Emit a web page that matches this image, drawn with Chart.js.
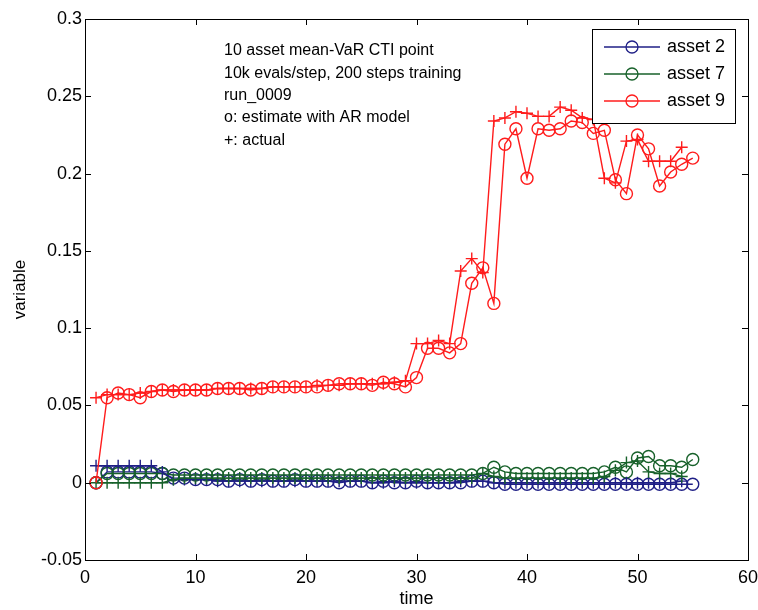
<!DOCTYPE html>
<html>
<head>
<meta charset="utf-8">
<script src="https://cdn.jsdelivr.net/npm/chart.js@4.4.1/dist/chart.umd.min.js"></script>
<style>
  html, body { margin: 0; padding: 0; background: #ffffff; }
  #wrap { width: 758px; height: 610px; }
</style>
</head>
<body>
<div id="wrap"><canvas id="c" width="758" height="610"></canvas></div>
<script>
// time steps of the run
const steps = [1,2,3,4,5,6,7,8,9,10,11,12,13,14,15,16,17,18,19,20,
  21,22,23,24,25,26,27,28,29,30,31,32,33,34,35,36,37,38,39,40,
  41,42,43,44,45,46,47,48,49,50,51,52,53,54,55];

// AR-model estimates (o) — one per step
const asset2Est = [0,0.007,0.007,0.007,0.007,0.007,0.006,0.003,0.003,0.002,
  0.002,0.002,0.001,0.002,0.001,0.002,0.001,0.001,0.002,0.001,
  0.001,0.001,0.000,0.001,0.001,0.000,0.001,0.000,0.000,0.001,
  0.000,0.000,0.000,0.000,0.001,0.001,0.000,-0.001,-0.001,-0.001,
  -0.001,-0.001,-0.001,-0.001,-0.001,-0.001,-0.001,-0.001,-0.001,-0.001,
  -0.001,-0.001,-0.001,-0.001,-0.001];
const asset7Est = [0,0.006,0.006,0.006,0.006,0.006,0.006,0.005,0.005,0.005,
  0.005,0.005,0.005,0.005,0.005,0.005,0.005,0.005,0.005,0.005,
  0.005,0.005,0.005,0.005,0.005,0.005,0.005,0.005,0.005,0.005,
  0.005,0.005,0.005,0.005,0.005,0.006,0.010,0.007,0.006,0.006,
  0.006,0.006,0.006,0.006,0.006,0.006,0.007,0.010,0.007,0.016,
  0.017,0.011,0.011,0.010,0.015];
const asset9Est = [0,0.055,0.058,0.057,0.055,0.059,0.060,0.059,0.060,0.060,
  0.060,0.061,0.061,0.061,0.060,0.061,0.062,0.062,0.062,0.062,
  0.062,0.063,0.064,0.064,0.064,0.063,0.065,0.064,0.062,0.068,
  0.087,0.087,0.084,0.090,0.129,0.139,0.116,0.219,0.229,0.197,
  0.229,0.228,0.229,0.234,0.233,0.226,0.228,0.196,0.187,0.225,
  0.216,0.192,0.201,0.206,0.210];

// actual values (+) — known up to step 54
const asset2Act = [0.011,0.011,0.011,0.011,0.011,0.011,0.007,0.002,0.002,0.002,
  0.002,0.001,0.001,0.001,0.001,0.001,0.001,0.001,0.001,0.001,
  0.001,0.001,0.001,0.001,0.001,0.000,0.000,0.001,0.000,0.000,
  0.000,0.000,0.000,0.001,0.001,0.001,0.000,0.000,0.000,0.000,
  0.000,0.000,0.000,0.000,0.000,0.000,0.000,0.000,0.000,0.000,
  0.000,0.000,0.000,0.001];
const asset7Act = [0,0,0,0,0,0,0,0.002,0.003,0.003,
  0.003,0.003,0.003,0.003,0.003,0.003,0.003,0.003,0.003,0.003,
  0.003,0.003,0.003,0.003,0.003,0.003,0.003,0.003,0.003,0.003,
  0.003,0.003,0.003,0.003,0.003,0.006,0.004,0.003,0.003,0.003,
  0.003,0.003,0.003,0.003,0.003,0.003,0.004,0.008,0.013,0.014,
  0.007,0.006,0.006,0.004];
const asset9Act = [0.055,0.057,0.057,0.057,0.058,0.059,0.060,0.060,0.060,0.060,
  0.060,0.061,0.061,0.061,0.061,0.061,0.062,0.062,0.062,0.062,
  0.063,0.063,0.063,0.064,0.064,0.064,0.064,0.065,0.066,0.090,
  0.090,0.092,0.090,0.137,0.145,0.136,0.234,0.236,0.240,0.239,
  0.237,0.237,0.243,0.241,0.236,0.235,0.197,0.194,0.221,0.222,
  0.208,0.208,0.208,0.217];

const xTicks = [0, 10, 20, 30, 40, 50, 60];
const yTicks = [-0.05, 0, 0.05, 0.1, 0.15, 0.2, 0.25, 0.3];

const assetNames = ['asset 2', 'asset 7', 'asset 9'];
const noteLines = [
  '10 asset mean-VaR CTI point',
  '10k evals/step, 200 steps training',
  'run_0009',
  'o: estimate with AR model',
  '+: actual'
];

const BLUE = '#1f1f86';
const GREEN = '#17612a';
const RED = '#ff1c1c';
const FONT = '"Liberation Sans", Arial, Helvetica, sans-serif';

function pairs(vals) {
  return vals.map((v, i) => ({ x: steps[i], y: v }));
}

function series(label, vals, color, style, order) {
  return {
    label: label,
    data: pairs(vals),
    borderColor: color,
    backgroundColor: color,
    pointBorderColor: color,
    pointBackgroundColor: 'rgba(0,0,0,0)',
    pointStyle: style,
    pointRadius: 6,
    pointHoverRadius: 6,
    pointBorderWidth: 1.4,
    borderWidth: 1.4,
    showLine: true,
    fill: false,
    tension: 0,
    order: order
  };
}

// axes box with inward ticks on all four sides
const frame = {
  id: 'frame',
  afterDatasetsDraw(chart) {
    const { ctx, chartArea: a, scales } = chart;
    const L = 6;
    ctx.save();
    ctx.strokeStyle = '#000';
    ctx.lineWidth = 1;
    ctx.strokeRect(a.left + 0.5, a.top + 0.5, a.right - a.left, a.bottom - a.top);
    ctx.beginPath();
    xTicks.forEach(v => {
      const px = Math.round(scales.x.getPixelForValue(v)) + 0.5;
      ctx.moveTo(px, a.bottom); ctx.lineTo(px, a.bottom - L);
      ctx.moveTo(px, a.top); ctx.lineTo(px, a.top + L);
    });
    yTicks.forEach(v => {
      const py = Math.round(scales.y.getPixelForValue(v)) + 0.5;
      ctx.moveTo(a.left, py); ctx.lineTo(a.left + L, py);
      ctx.moveTo(a.right, py); ctx.lineTo(a.right - L, py);
    });
    ctx.stroke();
    ctx.restore();
  }
};

// text block describing the run
const notes = {
  id: 'notes',
  afterDraw(chart) {
    const { ctx, chartArea: a } = chart;
    ctx.save();
    ctx.fillStyle = '#000';
    ctx.font = '16px ' + FONT;
    ctx.textBaseline = 'middle';
    ctx.textAlign = 'left';
    noteLines.forEach((t, i) => ctx.fillText(t, a.left + 139, a.top + 32 + i * 22.3));
    ctx.restore();
  }
};

// boxed legend in the upper right corner
const boxLegend = {
  id: 'boxLegend',
  afterDraw(chart) {
    const { ctx, chartArea: a } = chart;
    const w = 143, h = 94;
    const x0 = a.right - 13 - w, y0 = a.top + 10;
    ctx.save();
    ctx.fillStyle = '#fff';
    ctx.fillRect(x0, y0, w, h);
    ctx.strokeStyle = '#000';
    ctx.lineWidth = 1;
    ctx.strokeRect(x0 + 0.5, y0 + 0.5, w, h);
    const colors = [BLUE, GREEN, RED];
    assetNames.forEach((name, i) => {
      const y = y0 + 18 + i * 27;
      ctx.strokeStyle = colors[i];
      ctx.lineWidth = 1.3;
      ctx.beginPath();
      ctx.moveTo(x0 + 12, y); ctx.lineTo(x0 + 68, y);
      ctx.stroke();
      ctx.beginPath();
      ctx.arc(x0 + 40, y, 6, 0, Math.PI * 2);
      ctx.stroke();
      ctx.fillStyle = '#000';
      ctx.font = '18px ' + FONT;
      ctx.textBaseline = 'middle';
      ctx.textAlign = 'left';
      ctx.fillText(name, x0 + 75, y);
    });
    ctx.restore();
  }
};

new Chart(document.getElementById('c'), {
  type: 'line',
  data: {
    datasets: [
      series(assetNames[0], asset2Est, BLUE, 'circle', 6),
      series(assetNames[1], asset7Est, GREEN, 'circle', 5),
      series(assetNames[2], asset9Est, RED, 'circle', 1),
      series(assetNames[0] + ' actual', asset2Act, BLUE, 'cross', 4),
      series(assetNames[1] + ' actual', asset7Act, GREEN, 'cross', 3),
      series(assetNames[2] + ' actual', asset9Act, RED, 'cross', 0)
    ]
  },
  options: {
    responsive: false,
    animation: false,
    devicePixelRatio: 1,
    layout: { padding: { left: 0, right: 10, top: 19, bottom: 0 } },
    plugins: {
      legend: { display: false },
      tooltip: { enabled: false },
      title: { display: false }
    },
    scales: {
      x: {
        type: 'linear',
        min: 0,
        max: 60,
        afterFit(s) { s.height = 50; s.paddingLeft = 0; s.paddingRight = 0; },
        afterBuildTicks(s) { s.ticks = xTicks.map(v => ({ value: v })); },
        grid: { display: false, drawTicks: false },
        border: { display: false },
        ticks: {
          color: '#000',
          font: { family: FONT, size: 18 },
          padding: 7,
          maxRotation: 0,
          autoSkip: false
        },
        title: {
          display: true,
          text: 'time',
          color: '#000',
          font: { family: FONT, size: 18 },
          padding: { top: 0, bottom: 0 }
        }
      },
      y: {
        type: 'linear',
        min: -0.05,
        max: 0.3,
        afterFit(s) { s.width = 85; s.paddingTop = 0; s.paddingBottom = 0; },
        afterBuildTicks(s) { s.ticks = yTicks.map(v => ({ value: v })); },
        grid: { display: false, drawTicks: false },
        border: { display: false },
        ticks: {
          color: '#000',
          font: { family: FONT, size: 18 },
          padding: 3,
          autoSkip: false,
          callback: v => String(Number(v.toFixed(2)))
        },
        title: {
          display: true,
          text: 'variable',
          color: '#000',
          font: { family: FONT, size: 17 },
          padding: { top: 10, bottom: 0 }
        }
      }
    }
  },
  plugins: [frame, notes, boxLegend]
});
</script>
</body>
</html>
